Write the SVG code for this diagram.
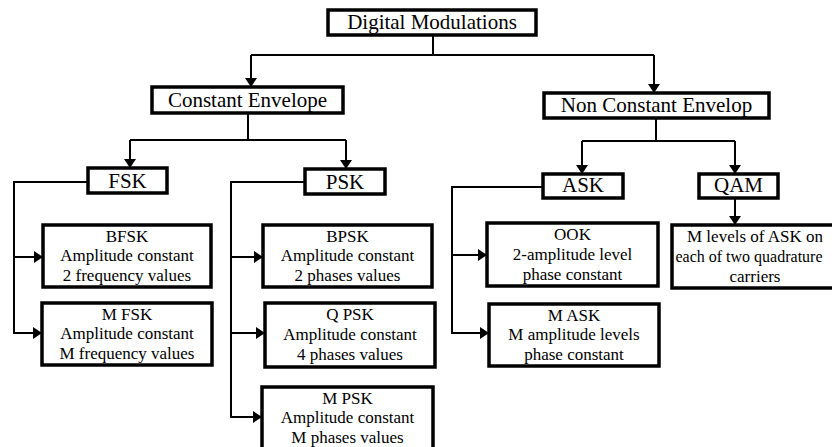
<svg xmlns="http://www.w3.org/2000/svg" width="832" height="447" viewBox="0 0 832 447">
<defs>
<marker id="ah" markerUnits="userSpaceOnUse" markerWidth="10" markerHeight="12" refX="9" refY="6" orient="auto">
<path d="M0,0 L9,6 L0,12 z" fill="#000"/>
</marker>
<style>
.box{fill:#fff;stroke:#000;stroke-width:3.5}
.ln{fill:none;stroke:#000;stroke-width:2}
.arr{marker-end:url(#ah)}
text{font-family:"Liberation Serif","Times New Roman","DejaVu Serif",serif;fill:#000;text-anchor:middle}
.big{font-size:21px}
.sm{font-size:17px}
</style>
</defs>
<rect width="832" height="447" fill="#fff"/>
<g id="connectors">
<path class="ln" d="M433,35 V55 M251,55 H654"/>
<path class="ln arr" d="M251,55 V87"/>
<path class="ln arr" d="M654,55 V93"/>
<path class="ln" d="M248,113 V140 M130,140 H346"/>
<path class="ln arr" d="M130,140 V168"/>
<path class="ln arr" d="M346,140 V169"/>
<path class="ln" d="M656,118 V141 M582,141 H735"/>
<path class="ln arr" d="M582,141 V174"/>
<path class="ln arr" d="M735,141 V174"/>
<path class="ln arr" d="M88,182 H14 V333 H42"/>
<path class="ln arr" d="M14,257 H43"/>
<path class="ln arr" d="M305,182 H231 V417 H262"/>
<path class="ln arr" d="M231,257 H263"/>
<path class="ln arr" d="M231,333 H265"/>
<path class="ln arr" d="M543,187 H452 V333 H489"/>
<path class="ln arr" d="M452,255 H487"/>
<path class="ln arr" d="M735,198 V225"/>
</g>
<g id="digital-modulations">
<rect class="box" x="328" y="10" width="208" height="25"/>
<text class="big" x="432" y="29">Digital Modulations</text>
</g>
<g id="constant-envelope">
<rect class="box" x="152" y="87" width="191" height="26"/>
<text class="big" x="247.5" y="107">Constant Envelope</text>
</g>
<g id="non-constant-envelop">
<rect class="box" x="544" y="93" width="225" height="25"/>
<text class="big" x="656.5" y="112">Non Constant Envelop</text>
</g>
<g id="fsk">
<rect class="box" x="88" y="168" width="79" height="25"/>
<text class="big" x="127.5" y="188">FSK</text>
</g>
<g id="psk">
<rect class="box" x="305" y="169" width="80" height="25"/>
<text class="big" x="345" y="189">PSK</text>
</g>
<g id="ask">
<rect class="box" x="543" y="174" width="80" height="24"/>
<text class="big" x="583" y="192">ASK</text>
</g>
<g id="qam">
<rect class="box" x="699" y="174" width="79" height="24"/>
<text class="big" x="738.5" y="192">QAM</text>
</g>
<g id="bfsk">
<rect class="box" x="43" y="225" width="168" height="62"/>
<text class="sm" x="127" y="242">BFSK</text>
<text class="sm" x="127" y="261">Amplitude constant</text>
<text class="sm" x="127" y="281">2 frequency values</text>
</g>
<g id="mfsk">
<rect class="box" x="42" y="303" width="170" height="62"/>
<text class="sm" x="127" y="320">M FSK</text>
<text class="sm" x="127" y="339">Amplitude constant</text>
<text class="sm" x="127" y="359">M frequency values</text>
</g>
<g id="bpsk">
<rect class="box" x="263" y="225" width="169" height="62"/>
<text class="sm" x="347.5" y="242">BPSK</text>
<text class="sm" x="347.5" y="261">Amplitude constant</text>
<text class="sm" x="347.5" y="281">2 phases values</text>
</g>
<g id="qpsk">
<rect class="box" x="265" y="303" width="170" height="64"/>
<text class="sm" x="350" y="320">Q PSK</text>
<text class="sm" x="350" y="340">Amplitude constant</text>
<text class="sm" x="350" y="360">4 phases values</text>
</g>
<g id="mpsk">
<rect class="box" x="262" y="387" width="171" height="66"/>
<text class="sm" x="347.5" y="404">M PSK</text>
<text class="sm" x="347.5" y="423">Amplitude constant</text>
<text class="sm" x="347.5" y="443">M phases values</text>
</g>
<g id="ook">
<rect class="box" x="487" y="223" width="171" height="63"/>
<text class="sm" x="572.5" y="240">OOK</text>
<text class="sm" x="572.5" y="260">2-amplitude level</text>
<text class="sm" x="572.5" y="280">phase constant</text>
</g>
<g id="mask">
<rect class="box" x="489" y="304" width="170" height="62"/>
<text class="sm" x="574" y="321">M ASK</text>
<text class="sm" x="574" y="340">M amplitude levels</text>
<text class="sm" x="574" y="360">phase constant</text>
</g>
<g id="qam-desc">
<rect class="box" x="672" y="225" width="166" height="63"/>
<text class="sm" x="755" y="242">M levels of ASK on</text>
<text x="749" y="262" style="font-size:16px">each of two quadrature</text>
<text class="sm" x="755" y="282">carriers</text>
</g>
</svg>
